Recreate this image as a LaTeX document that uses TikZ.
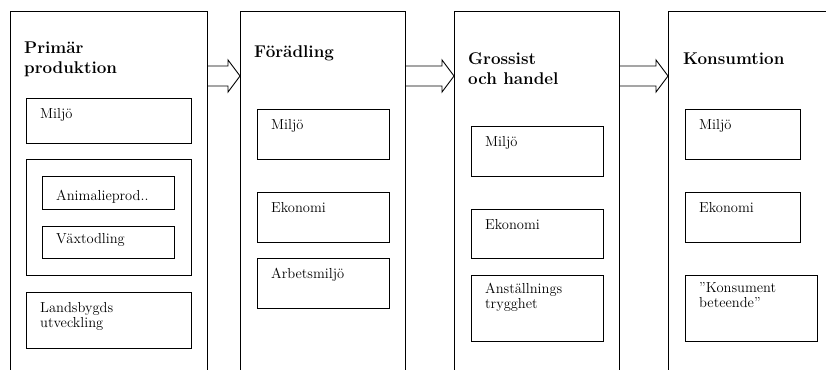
\documentclass[tikz,border=0pt]{standalone}
\usepackage{tikz}
\usetikzlibrary{calc, positioning}

\tikzset{
  stage/.style = {draw, line width=1.1pt, anchor=north west, inner sep=0pt, minimum height=420pt},
  stagetitle/.style = {anchor=base west, align=left, inner sep=0pt, font=\fontsize{17}{20}\selectfont\bfseries},
  part/.style = {draw, line width=.9pt, anchor=north west, inner sep=0pt},
  parttext/.style = {anchor=base west, align=left, inner sep=0pt, xshift=14pt, yshift=-20pt, font=\fontsize{14.5}{15.5}\selectfont},
  twolines/.style = {yshift=-15.5pt},
  blockarrow/.style = {draw, line width=.9pt, to path={
    ($(\tikztostart)+(0,-10)$) -- ($(\tikztotarget)+(-12,-10)$) -- ($(\tikztotarget)+(-12,-16)$)
    -- (\tikztotarget) -- ($(\tikztotarget)+(-12,16)$) -- ($(\tikztotarget)+(-12,10)$) -- ($(\tikztostart)+(0,10)$)}}
}

\begin{document}
\begin{tikzpicture}[x=1pt, y=-1pt]
\useasboundingbox (0,0) rectangle (826,369);
\clip (0,0) rectangle (826,369);

\node[stage, minimum width=197pt] (prim) at (10,11) {};
\node[stage, minimum width=165pt] (foer) at (240,11) {};
\node[stage, minimum width=165pt] (gross) at (454,11) {};
\node[stage, minimum width=250pt] (kons) at (668,11) {};

\node[stagetitle] (primt) at (24,73) {Primär\\produktion};
\node[stagetitle] (foert) at (254,58) {Förädling};
\node[stagetitle] (grosst) at (468,84) {Grossist\\och handel};
\node[stagetitle] (konst) at (683,64) {Konsumtion};

\node[part, minimum width=165pt, minimum height=45pt, label={[parttext]north west:Miljö}] (primmiljo) at (26,98) {};
\node[part, minimum width=165pt, minimum height=116pt] (primgrupp) at (26,159) {};
\node[part, minimum width=132pt, minimum height=33pt, label={[parttext, yshift=-4pt]north west:Animalieprod..}] (primanim) at (42,176) {};
\node[part, minimum width=132pt, minimum height=32pt, label={[parttext, yshift=3pt]north west:Växtodling}] (primvaxt) at (42,226) {};
\node[part, minimum width=165pt, minimum height=56pt, label={[parttext, twolines]north west:Landsbygds\\utveckling}] (primland) at (26,292) {};

\node[part, minimum width=132pt, minimum height=50pt, label={[parttext]north west:Miljö}] (foermiljo) at (257,109) {};
\node[part, minimum width=132pt, minimum height=50pt, label={[parttext]north west:Ekonomi}] (foerekon) at (257,192) {};
\node[part, minimum width=132pt, minimum height=50pt, label={[parttext]north west:Arbetsmiljö}] (foerarb) at (257,258) {};

\node[part, minimum width=132pt, minimum height=50pt, label={[parttext]north west:Miljö}] (grossmiljo) at (471,126) {};
\node[part, minimum width=132pt, minimum height=49pt, label={[parttext]north west:Ekonomi}] (grossekon) at (471,209) {};
\node[part, minimum width=132pt, minimum height=66pt, label={[parttext, twolines, yshift=2pt]north west:Anställnings\\trygghet}] (grossanst) at (471,275) {};

\node[part, minimum width=115pt, minimum height=50pt, label={[parttext]north west:Miljö}] (konsmiljo) at (685,109) {};
\node[part, minimum width=115pt, minimum height=50pt, label={[parttext]north west:Ekonomi}] (konsekon) at (685,192) {};
\node[part, minimum width=132pt, minimum height=66pt, label={[parttext, twolines, yshift=3pt]north west:”Konsument\\beteende”}] (konsbet) at (685,275) {};

\coordinate (a1s) at ([yshift=-65pt]prim.north east);
\coordinate (a1e) at ([yshift=-65pt]foer.north west);
\coordinate (a2s) at ([yshift=-65pt]foer.north east);
\coordinate (a2e) at ([yshift=-65pt]gross.north west);
\coordinate (a3s) at ([yshift=-65pt]gross.north east);
\coordinate (a3e) at ([yshift=-65pt]kons.north west);
\draw[blockarrow] (a1s) to (a1e);
\draw[blockarrow] (a2s) to (a2e);
\draw[blockarrow] (a3s) to (a3e);
\end{tikzpicture}
\end{document}
